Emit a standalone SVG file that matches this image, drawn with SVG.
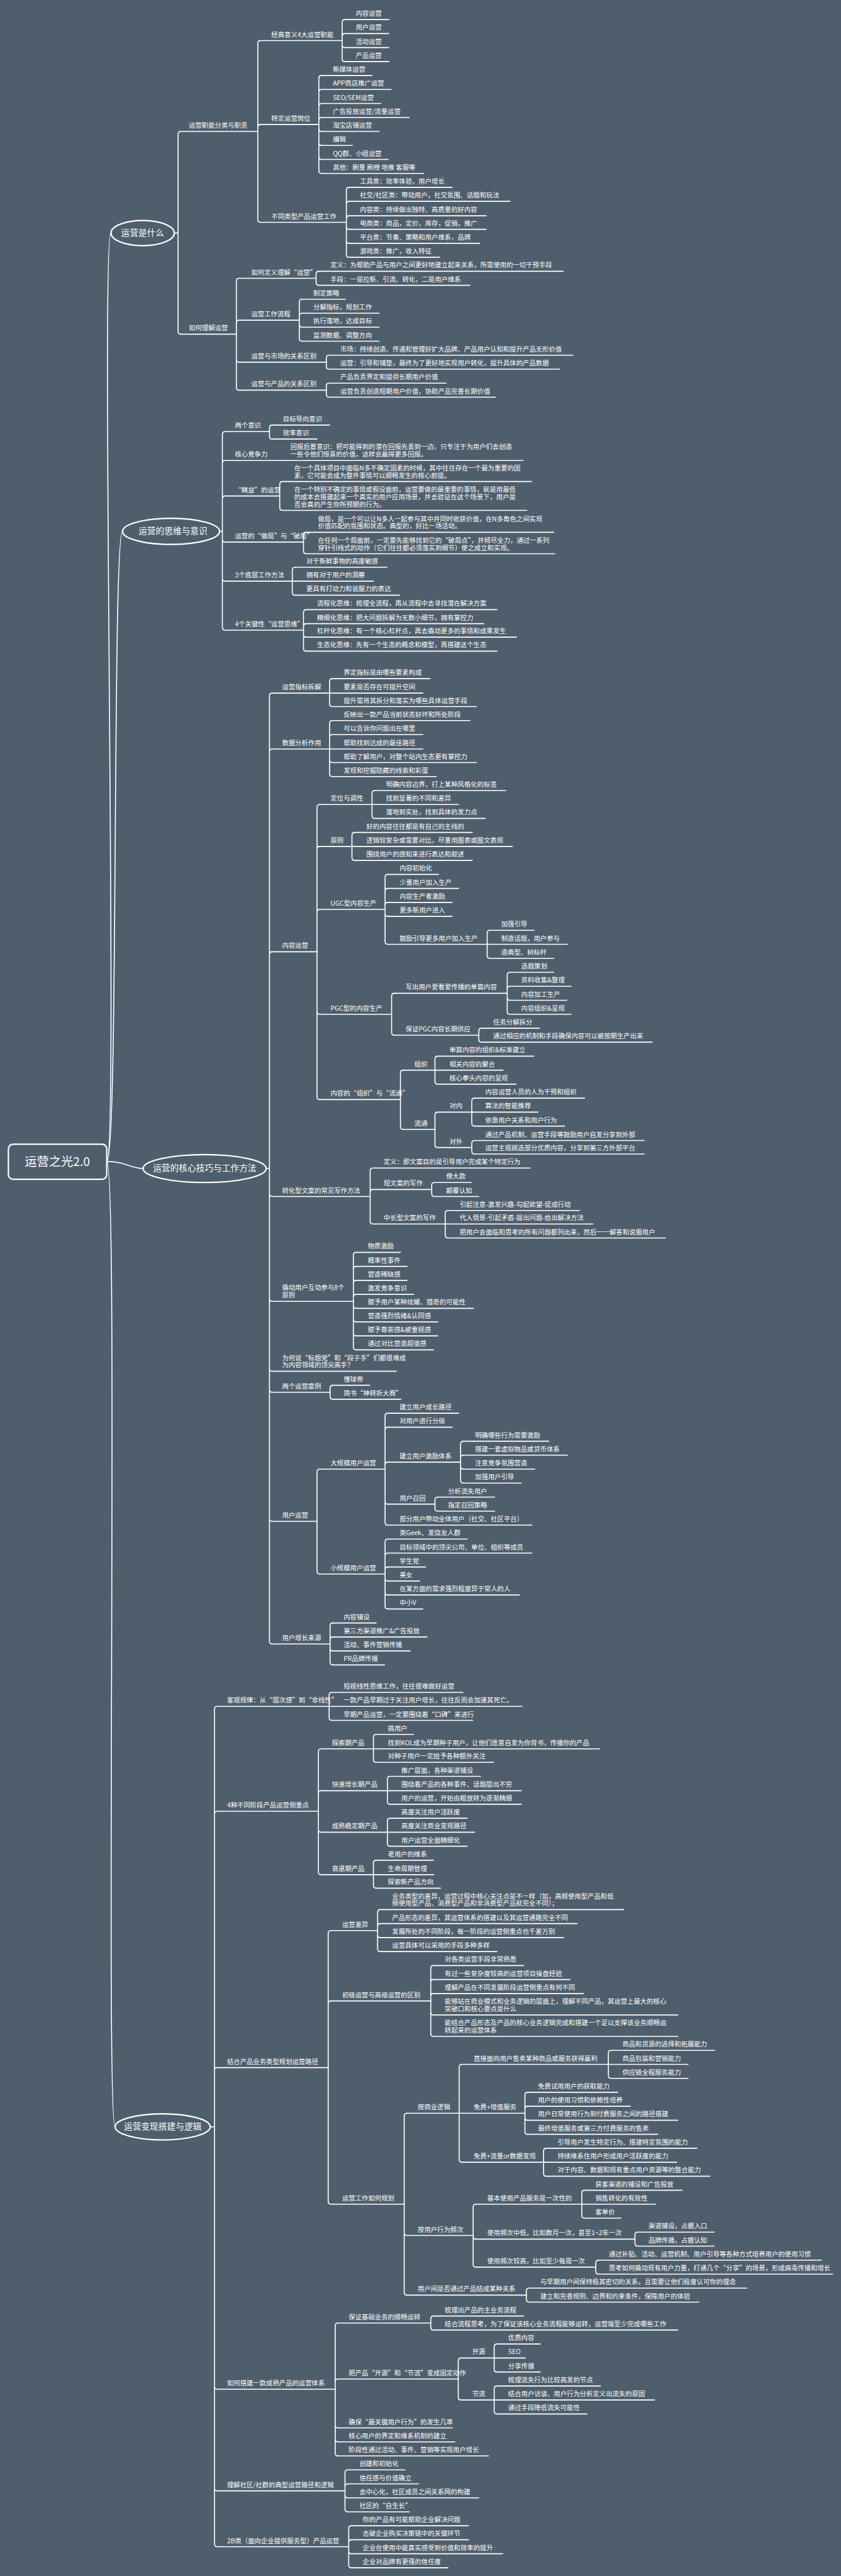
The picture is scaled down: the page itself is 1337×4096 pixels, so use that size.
<svg xmlns="http://www.w3.org/2000/svg" width="1337" height="4096" viewBox="0 0 1337 4096">
<style>
.t{font-family:"Noto Sans CJK SC","Noto Sans",sans-serif;font-size:14px;fill:#fff}
.h{font-family:"Noto Sans CJK SC","Noto Sans",sans-serif;font-size:18.5px;fill:#fff;text-anchor:middle}
.r{font-family:"Noto Sans CJK SC","Noto Sans",sans-serif;font-size:26px;fill:#fff;text-anchor:middle}
.u,.c{stroke:#fff;stroke-width:2.2;fill:none;stroke-linecap:round}
.e{stroke:#fff;stroke-width:3;fill:#4f5e6c}
</style>
<rect width="1337" height="4096" fill="#4f5e6c"/>
<g transform="scale(0.74113)">
<g id="connectors">
<path class="c" d="M229 2492 C255 2492 215 500 238 500 M229 2492 C255 2492 240 1140 263 1140 M229 2492 C270 2492 280 2507 307 2507 M229 2492 C255 2492 225 4563 247 4563"/>
<path class="c" d="M374 500 H382 M382 500 V288 Q382 282 388 282 M382 500 V711 Q382 717 388 717"/>
<path class="c" d="M553 282 V93 Q553 87 559 87 M553 282 V273 Q553 267 559 267 M553 282 V471 Q553 477 559 477"/>
<path class="c" d="M734 87 V48 Q734 42 740 42 M734 87 V78 Q734 72 740 72 M734 87 V96 Q734 102 740 102 M734 87 V126 Q734 132 740 132"/>
<path class="c" d="M684 267 V168 Q684 162 690 162 M684 267 V198 Q684 192 690 192 M684 267 V228 Q684 222 690 222 M684 267 V258 Q684 252 690 252 M684 267 V276 Q684 282 690 282 M684 267 V306 Q684 312 690 312 M684 267 V336 Q684 342 690 342 M684 267 V366 Q684 372 690 372"/>
<path class="c" d="M743 477 V408 Q743 402 749 402 M743 477 V438 Q743 432 749 432 M743 477 V469 Q743 463 749 463 M743 477 V486 Q743 492 749 492 M743 477 V516 Q743 522 749 522 M743 477 V546 Q743 552 749 552"/>
<path class="c" d="M507 717 V603 Q507 597 513 597 M507 717 V693 Q507 687 513 687 M507 717 V771 Q507 777 513 777 M507 717 V831 Q507 837 513 837"/>
<path class="c" d="M678 597 V588 Q678 582 684 582 M678 597 V606 Q678 612 684 612 M642 687 V648 Q642 642 648 642 M642 687 V678 Q642 672 648 672 M642 687 V696 Q642 702 648 702 M642 687 V726 Q642 732 648 732 M700 777 V768 Q700 762 706 762 M700 777 V786 Q700 792 706 792 M700 837 V828 Q700 822 706 822 M700 837 V846 Q700 852 706 852"/>
<path class="c" d="M471 1140 H477 M477 1140 V932 Q477 926 483 926 M477 1140 V994 Q477 988 483 988 M477 1140 V1070 Q477 1064 483 1064 M477 1140 V1157 Q477 1163 483 1163 M477 1140 V1241 Q477 1247 483 1247 M477 1140 V1346 Q477 1352 483 1352"/>
<path class="c" d="M578 926 V918 Q578 912 584 912 M578 926 V936 Q578 942 584 942 M612 988 H618 M600 1064 V1039 Q600 1033 606 1033 M600 1064 V1089 Q600 1095 606 1095 M651 1163 V1148 Q651 1142 657 1142 M651 1163 V1182 Q651 1188 657 1188 M627 1247 V1223 Q627 1217 633 1217 M627 1247 H633 M627 1247 V1271 Q627 1277 633 1277 M651 1352 V1314 Q651 1308 657 1308 M651 1352 V1344 Q651 1338 657 1338 M651 1352 V1361 Q651 1367 657 1367 M651 1352 V1391 Q651 1397 657 1397"/>
<path class="c" d="M571 2507 H578 M578 2507 V1493 Q578 1487 584 1487 M578 2507 V1613 Q578 1607 584 1607 M578 2507 V2048 Q578 2042 584 2042 M578 2507 V2561 Q578 2567 584 2567 M578 2507 V2786 Q578 2792 584 2792 M578 2507 V2936 Q578 2942 584 2942 M578 2507 V2981 Q578 2987 584 2987 M578 2507 V3258 Q578 3264 584 3264 M578 2507 V3521 Q578 3527 584 3527"/>
<path class="c" d="M707 1487 V1462 Q707 1456 713 1456 M707 1487 H713 M707 1487 V1510 Q707 1516 713 1516 M707 1607 V1552 Q707 1546 713 1546 M707 1607 V1582 Q707 1576 713 1576 M707 1607 H713 M707 1607 V1630 Q707 1636 713 1636 M707 1607 V1660 Q707 1666 713 1666"/>
<path class="c" d="M680 2042 V1732 Q680 1726 686 1726 M680 2042 V1822 Q680 1816 686 1816 M680 2042 V1957 Q680 1951 686 1951 M680 2042 V2170 Q680 2176 686 2176 M680 2042 V2353 Q680 2359 686 2359"/>
<path class="c" d="M798 1726 V1702 Q798 1696 804 1696 M798 1726 H804 M798 1726 V1750 Q798 1756 804 1756 M755 1816 V1792 Q755 1786 761 1786 M755 1816 H761 M755 1816 V1840 Q755 1846 761 1846"/>
<path class="c" d="M826 1951 V1882 Q826 1876 832 1876 M826 1951 V1912 Q826 1906 832 1906 M826 1951 V1942 Q826 1936 832 1936 M826 1951 V1960 Q826 1966 832 1966 M826 1951 V2020 Q826 2026 832 2026 M1045 2026 V2002 Q1045 1996 1051 1996 M1045 2026 H1051 M1045 2026 V2050 Q1045 2056 1051 2056"/>
<path class="c" d="M840 2176 V2137 Q840 2131 846 2131 M840 2176 V2215 Q840 2221 846 2221 M1088 2131 V2092 Q1088 2086 1094 2086 M1088 2131 V2122 Q1088 2116 1094 2116 M1088 2131 V2140 Q1088 2146 1094 2146 M1088 2131 V2170 Q1088 2176 1094 2176 M1027 2221 V2212 Q1027 2206 1033 2206 M1027 2221 V2230 Q1027 2236 1033 2236"/>
<path class="c" d="M859 2359 V2302 Q859 2296 865 2296 M859 2359 V2417 Q859 2423 865 2423 M933 2296 V2272 Q933 2266 939 2266 M933 2296 H939 M933 2296 V2320 Q933 2326 939 2326 M933 2423 V2392 Q933 2386 939 2386 M933 2423 V2456 Q933 2462 939 2462 M1012 2386 V2362 Q1012 2356 1018 2356 M1012 2386 H1018 M1012 2386 V2410 Q1012 2416 1018 2416 M1012 2462 V2453 Q1012 2447 1018 2447 M1012 2462 V2470 Q1012 2476 1018 2476"/>
<path class="c" d="M794 2567 V2512 Q794 2506 800 2506 M794 2567 V2558 Q794 2552 800 2552 M794 2567 V2620 Q794 2626 800 2626 M926 2552 V2543 Q926 2537 932 2537 M926 2552 V2561 Q926 2567 932 2567 M955 2626 V2603 Q955 2597 961 2597 M955 2626 H961 M955 2626 V2650 Q955 2656 961 2656"/>
<path class="c" d="M758 2792 V2693 Q758 2687 764 2687 M758 2792 V2723 Q758 2717 764 2717 M758 2792 V2753 Q758 2747 764 2747 M758 2792 V2783 Q758 2777 764 2777 M758 2792 V2801 Q758 2807 764 2807 M758 2792 V2830 Q758 2836 764 2836 M758 2792 V2860 Q758 2866 764 2866 M758 2792 V2890 Q758 2896 764 2896"/>
<path class="c" d="M708 2987 V2978 Q708 2972 714 2972 M708 2987 V2996 Q708 3002 714 3002 M680 3264 V3158 Q680 3152 686 3152 M680 3264 V3371 Q680 3377 686 3377"/>
<path class="c" d="M826 3152 V3038 Q826 3032 832 3032 M826 3152 V3068 Q826 3062 832 3062 M826 3152 V3143 Q826 3137 832 3137 M826 3152 V3221 Q826 3227 832 3227 M826 3152 V3266 Q826 3272 832 3272 M988 3137 V3098 Q988 3092 994 3092 M988 3137 V3128 Q988 3122 994 3122 M988 3137 V3146 Q988 3152 994 3152 M988 3137 V3176 Q988 3182 994 3182 M933 3227 V3218 Q933 3212 939 3212 M933 3227 V3236 Q933 3242 939 3242"/>
<path class="c" d="M826 3377 V3308 Q826 3302 832 3302 M826 3377 V3338 Q826 3332 832 3332 M826 3377 V3368 Q826 3362 832 3362 M826 3377 V3386 Q826 3392 832 3392 M826 3377 V3416 Q826 3422 832 3422 M826 3377 V3446 Q826 3452 832 3452 M708 3527 V3488 Q708 3482 714 3482 M708 3527 V3518 Q708 3512 714 3512 M708 3527 V3536 Q708 3542 714 3542 M708 3527 V3566 Q708 3572 714 3572"/>
<path class="c" d="M451 4563 H460 M460 4563 V3667 Q460 3661 466 3661 M460 4563 V3892 Q460 3886 466 3886 M460 4563 V4442 Q460 4436 466 4436 M460 4563 V5120 Q460 5126 466 5126 M460 4563 V5338 Q460 5344 466 5344 M460 4563 V5458 Q460 5464 466 5464"/>
<path class="c" d="M706 3661 V3637 Q706 3631 712 3631 M706 3661 H712 M706 3661 V3685 Q706 3691 712 3691 M683 3886 V3758 Q683 3752 689 3752 M683 3886 V3848 Q683 3842 689 3842 M683 3886 V3925 Q683 3931 689 3931 M683 3886 V4016 Q683 4022 689 4022"/>
<path class="c" d="M801 3752 V3727 Q801 3721 807 3721 M801 3752 H807 M801 3752 V3775 Q801 3781 807 3781 M831 3842 V3817 Q831 3811 837 3811 M831 3842 H837 M831 3842 V3865 Q831 3871 837 3871 M831 3931 V3907 Q831 3901 837 3901 M831 3931 H837 M831 3931 V3955 Q831 3961 837 3961 M801 4022 V3997 Q801 3991 807 3991 M801 4022 H807 M801 4022 V4045 Q801 4051 807 4051"/>
<path class="c" d="M704 4436 V4148 Q704 4142 710 4142 M704 4436 V4299 Q704 4293 710 4293 M704 4436 V4723 Q704 4729 710 4729 M810 4142 V4103 Q810 4097 816 4097 M810 4142 V4133 Q810 4127 816 4127 M810 4142 V4151 Q810 4157 816 4157 M810 4142 V4181 Q810 4187 816 4187"/>
<path class="c" d="M924 4293 V4223 Q924 4217 930 4217 M924 4293 V4253 Q924 4247 930 4247 M924 4293 V4283 Q924 4277 930 4277 M924 4293 V4317 Q924 4323 930 4323 M924 4293 V4363 Q924 4369 930 4369"/>
<path class="c" d="M867 4729 V4540 Q867 4534 873 4534 M867 4729 V4790 Q867 4796 873 4796 M867 4729 V4918 Q867 4924 873 4924 M985 4534 V4435 Q985 4429 991 4429 M985 4534 H991 M985 4534 V4633 Q985 4639 991 4639"/>
<path class="c" d="M1305 4429 V4405 Q1305 4399 1311 4399 M1305 4429 H1311 M1305 4429 V4453 Q1305 4459 1311 4459 M1126 4534 V4495 Q1126 4489 1132 4489 M1126 4534 V4525 Q1126 4519 1132 4519 M1126 4534 V4543 Q1126 4549 1132 4549 M1126 4534 V4573 Q1126 4579 1132 4579 M1166 4639 V4615 Q1166 4609 1172 4609 M1166 4639 H1172 M1166 4639 V4663 Q1166 4669 1172 4669"/>
<path class="c" d="M1015 4796 V4735 Q1015 4729 1021 4729 M1015 4796 V4798 Q1015 4804 1021 4804 M1015 4796 V4858 Q1015 4864 1021 4864 M1248 4729 V4705 Q1248 4699 1254 4699 M1248 4729 H1254 M1248 4729 V4753 Q1248 4759 1254 4759 M1362 4804 V4795 Q1362 4789 1368 4789 M1362 4804 V4813 Q1362 4819 1368 4819 M1278 4864 V4855 Q1278 4849 1284 4849 M1278 4864 V4873 Q1278 4879 1284 4879 M1129 4924 V4915 Q1129 4909 1135 4909 M1129 4924 V4933 Q1129 4939 1135 4939"/>
<path class="c" d="M719 5126 V4990 Q719 4984 725 4984 M719 5126 V5110 Q719 5104 725 5104 M719 5126 V5203 Q719 5209 725 5209 M719 5126 V5233 Q719 5239 725 5239 M719 5126 V5263 Q719 5269 725 5269 M924 4984 V4975 Q924 4969 930 4969 M924 4984 V4993 Q924 4999 930 4999"/>
<path class="c" d="M983 5104 V5065 Q983 5059 989 5059 M983 5104 V5143 Q983 5149 989 5149 M1060 5059 V5035 Q1060 5029 1066 5029 M1060 5059 H1066 M1060 5059 V5083 Q1060 5089 1066 5089 M1060 5149 V5125 Q1060 5119 1066 5119 M1060 5149 H1066 M1060 5149 V5173 Q1060 5179 1066 5179"/>
<path class="c" d="M740 5344 V5305 Q740 5299 746 5299 M740 5344 V5335 Q740 5329 746 5329 M740 5344 V5353 Q740 5359 746 5359 M740 5344 V5383 Q740 5389 746 5389 M748 5464 V5425 Q748 5419 754 5419 M748 5464 V5455 Q748 5449 754 5449 M748 5464 V5473 Q748 5479 754 5479 M748 5464 V5503 Q748 5509 754 5509"/>
</g>
<g id="nodes">
<g id="root"><rect x="18" y="2455" width="211" height="75" rx="10" class="e"/><text class="r" x="123" y="2502">运营之光2.0</text></g>
<g id="s1"><ellipse cx="306" cy="500" rx="68" ry="27" class="e"/><text class="h" x="306" y="506">运营是什么</text></g>
<g id="s2"><ellipse cx="367" cy="1140" rx="104" ry="28" class="e"/><text class="h" x="371" y="1146">运营的思维与意识</text></g>
<g id="s3"><ellipse cx="439" cy="2507" rx="132" ry="30" class="e"/><text class="h" x="439" y="2513">运营的核心技巧与工作方法</text></g>
<g id="s4"><ellipse cx="349" cy="4563" rx="102" ry="28" class="e"/><text class="h" x="349" y="4569">运营变现搭建与逻辑</text></g>

<g id="a"><text class="t" x="405" y="274">运营职能分类与职责</text><path class="u" d="M388 282H553"/></g>
<g id="a1"><text class="t" x="582" y="79">经典意义4大运营职能</text><path class="u" d="M559 87H734"/></g>
<g id="a1a"><text class="t" x="763" y="34">内容运营</text><path class="u" d="M740 42H834"/></g>
<g id="a1b"><text class="t" x="763" y="64">用户运营</text><path class="u" d="M740 72H834"/></g>
<g id="a1c"><text class="t" x="763" y="94">活动运营</text><path class="u" d="M740 102H834"/></g>
<g id="a1d"><text class="t" x="763" y="124">产品运营</text><path class="u" d="M740 132H834"/></g>
<g id="a2"><text class="t" x="582" y="259">特定运营岗位</text><path class="u" d="M559 267H684"/></g>
<g id="a2a"><text class="t" x="714" y="154">新媒体运营</text><path class="u" d="M690 162H798"/></g>
<g id="a2b"><text class="t" x="714" y="184">APP商店推广运营</text><path class="u" d="M690 192H839"/></g>
<g id="a2c"><text class="t" x="714" y="214">SEO/SEM运营</text><path class="u" d="M690 222H817"/></g>
<g id="a2d"><text class="t" x="714" y="244">广告投放运营/流量运营</text><path class="u" d="M690 252H878"/></g>
<g id="a2e"><text class="t" x="714" y="274">淘宝店铺运营</text><path class="u" d="M690 282H813"/></g>
<g id="a2f"><text class="t" x="714" y="304">编辑</text><path class="u" d="M690 312H756"/></g>
<g id="a2g"><text class="t" x="714" y="334">QQ群、小组运营</text><path class="u" d="M690 342H833"/></g>
<g id="a2h"><text class="t" x="714" y="364">其他：刷量 刷榜 地推 客服等</text><path class="u" d="M690 372H909"/></g>
<g id="a3"><text class="t" x="582" y="469">不同类型产品运营工作</text><path class="u" d="M559 477H743"/></g>
<g id="a3a"><text class="t" x="772" y="394">工具类：效率体验，用户增长</text><path class="u" d="M749 402H970"/></g>
<g id="a3b"><text class="t" x="772" y="424">社交/社区类：带动用户，社交氛围、话题和玩法</text><path class="u" d="M749 432H1094"/></g>
<g id="a3c"><text class="t" x="772" y="455">内容类：持续做出独特、高质量的好内容</text><path class="u" d="M749 463H1043"/></g>
<g id="a3d"><text class="t" x="772" y="484">电商类：商品，定价，库存，促销，推广</text><path class="u" d="M749 492H1043"/></g>
<g id="a3e"><text class="t" x="772" y="514">平台类：节奏、策略和用户维系，品牌</text><path class="u" d="M749 522H1029"/></g>
<g id="a3f"><text class="t" x="772" y="544">游戏类：推广，收入特征</text><path class="u" d="M749 552H943"/></g>
<g id="b"><text class="t" x="405" y="709">如何理解运营</text><path class="u" d="M388 717H507"/></g>
<g id="b1"><text class="t" x="539" y="589">如何定义理解“运营”</text><path class="u" d="M513 597H678"/></g>
<g id="b1a"><text class="t" x="709" y="574">定义：为帮助产品与用户之间更好地建立起来关系，所需使用的一切干预手段</text><path class="u" d="M684 582H1208"/></g>
<g id="b1b"><text class="t" x="709" y="604">手段：一是拉新、引流、转化，二是用户维系</text><path class="u" d="M684 612H1008"/></g>
<g id="b2"><text class="t" x="539" y="679">运营工作流程</text><path class="u" d="M513 687H642"/></g>
<g id="b2a"><text class="t" x="672" y="634">制定策略</text><path class="u" d="M648 642H741"/></g>
<g id="b2b"><text class="t" x="672" y="664">分解指标，规划工作</text><path class="u" d="M648 672H813"/></g>
<g id="b2c"><text class="t" x="672" y="694">执行落地，达成目标</text><path class="u" d="M648 702H813"/></g>
<g id="b2d"><text class="t" x="672" y="724">监测数据、调整方向</text><path class="u" d="M648 732H813"/></g>
<g id="b3"><text class="t" x="539" y="769">运营与市场的关系区别</text><path class="u" d="M513 777H700"/></g>
<g id="b3a"><text class="t" x="730" y="754">市场：持续创造、传递和管理好扩大品牌、产品用户认知和提升产品无形价值</text><path class="u" d="M706 762H1229"/></g>
<g id="b3b"><text class="t" x="730" y="784">运营：引导和铺垫，最终为了更好地实现用户转化，提升具体的产品数据</text><path class="u" d="M706 792H1200"/></g>
<g id="b4"><text class="t" x="539" y="829">运营与产品的关系区别</text><path class="u" d="M513 837H700"/></g>
<g id="b4a"><text class="t" x="730" y="814">产品负责界定和提供长期用户价值</text><path class="u" d="M706 822H957"/></g>
<g id="b4b"><text class="t" x="730" y="844">运营负责创造短期用户价值，协助产品完善长期价值</text><path class="u" d="M706 852H1063"/></g>

<g id="c1"><text class="t" x="504" y="918">两个意识</text><path class="u" d="M483 926H578"/></g>
<g id="c1a"><text class="t" x="607" y="904">目标导向意识</text><path class="u" d="M584 912H707"/></g>
<g id="c1b"><text class="t" x="607" y="934">效率意识</text><path class="u" d="M584 942H680"/></g>
<g id="c2"><text class="t" x="504" y="980">核心竞争力</text><path class="u" d="M483 988H612"/></g>
<g id="c2a"><text class="t" x="623" y="964">回报后置意识：把可能得到的潜在回报先丢到一边，只专注于为用户们去创造</text><text class="t" x="623" y="980">一些令他们惊喜的价值，这样会赢得更多回报。</text><path class="u" d="M618 988H1122"/></g>
<g id="c3"><text class="t" x="504" y="1056">“精益”的运营</text><path class="u" d="M483 1064H600"/></g>
<g id="c3a"><text class="t" x="631" y="1009">在一个具体项目中面临N多不确定因素的时候，其中往往存在一个最为重要的因</text><text class="t" x="631" y="1025">素，它可能会成为整件事情可以顺畅发生的核心前提。</text><path class="u" d="M606 1033H1140"/></g>
<g id="c3b"><text class="t" x="631" y="1055">在一个特别不确定的事情或假设面前，运营要做的最重要的事情，就是用最低</text><text class="t" x="631" y="1071">的成本去搭建起来一个真实的用户应用场景，并去验证在这个场景下，用户是</text><text class="t" x="631" y="1087">否会真的产生你所预期的行为。</text><path class="u" d="M606 1095H1130"/></g>
<g id="c4"><text class="t" x="504" y="1155">运营的“做局”与“破局”</text><path class="u" d="M483 1163H651"/></g>
<g id="c4a"><text class="t" x="682" y="1118">做局，是一个可以让N多人一起参与其中并同时收获价值，在N多角色之间实现</text><text class="t" x="682" y="1134">价值匹配的氛围和状态。典型的，好比一场活动。</text><path class="u" d="M657 1142H1188"/></g>
<g id="c4b"><text class="t" x="682" y="1164">在任何一个局面前，一定要先能够找到它的“破局点”，并倾尽全力，通过一系列</text><text class="t" x="682" y="1180">穿针引线式的动作（它们往往都必须落实到细节）使之成立和实现。</text><path class="u" d="M657 1188H1190"/></g>
<g id="c5"><text class="t" x="504" y="1239">3个底层工作方法</text><path class="u" d="M483 1247H627"/></g>
<g id="c5a"><text class="t" x="657" y="1209">对于新鲜事物的高度敏感</text><path class="u" d="M633 1217H830"/></g>
<g id="c5b"><text class="t" x="657" y="1239">拥有对于用户的洞察</text><path class="u" d="M633 1247H801"/></g>
<g id="c5c"><text class="t" x="657" y="1269">更具有打动力和说服力的表达</text><path class="u" d="M633 1277H857"/></g>
<g id="c6"><text class="t" x="504" y="1344">4个关键性“运营思维”</text><path class="u" d="M483 1352H651"/></g>
<g id="c6a"><text class="t" x="680" y="1300">流程化思维：梳理全流程，再从流程中去寻找潜在解决方案</text><path class="u" d="M657 1308H1066"/></g>
<g id="c6b"><text class="t" x="680" y="1330">精细化思维：把大问题拆解为无数小细节，拥有掌控力</text><path class="u" d="M657 1338H1038"/></g>
<g id="c6c"><text class="t" x="680" y="1359">杠杆化思维：有一个核心杠杆点，再去撬动更多的事情和成果发生</text><path class="u" d="M657 1367H1108"/></g>
<g id="c6d"><text class="t" x="680" y="1389">生态化思维：先有一个生态的概念和模型，再搭建这个生态</text><path class="u" d="M657 1397H1066"/></g>

<g id="d1"><text class="t" x="605" y="1479">运营指标拆解</text><path class="u" d="M584 1487H707"/></g>
<g id="d1a"><text class="t" x="737" y="1448">界定指标是由哪些要素构成</text><path class="u" d="M713 1456H922"/></g>
<g id="d1b"><text class="t" x="737" y="1479">要素是否存在可提升空间</text><path class="u" d="M713 1487H907"/></g>
<g id="d1c"><text class="t" x="737" y="1508">提升需将其拆分和落实为哪些具体运营手段</text><path class="u" d="M713 1516H1022"/></g>
<g id="d2"><text class="t" x="605" y="1599">数据分析作用</text><path class="u" d="M584 1607H707"/></g>
<g id="d2a"><text class="t" x="737" y="1538">反映出一款产品当前状态好坏和所处阶段</text><path class="u" d="M713 1546H1008"/></g>
<g id="d2b"><text class="t" x="737" y="1568">可以告诉你问题出在哪里</text><path class="u" d="M713 1576H907"/></g>
<g id="d2c"><text class="t" x="737" y="1599">帮助找到达成的最佳路径</text><path class="u" d="M713 1607H907"/></g>
<g id="d2d"><text class="t" x="737" y="1628">帮助了解用户，对整个站内生态更有掌控力</text><path class="u" d="M713 1636H1022"/></g>
<g id="d2e"><text class="t" x="737" y="1658">发现和挖掘隐藏的线索和彩蛋</text><path class="u" d="M713 1666H936"/></g>
<g id="d3"><text class="t" x="605" y="2034">内容运营</text><path class="u" d="M584 2042H680"/></g>
<g id="d3a"><text class="t" x="709" y="1718">定位与调性</text><path class="u" d="M686 1726H798"/></g>
<g id="d3a1"><text class="t" x="828" y="1688">明确内容边界，打上某种风格化的标签</text><path class="u" d="M804 1696H1085"/></g>
<g id="d3a2"><text class="t" x="828" y="1718">找到显著的不同和差异</text><path class="u" d="M804 1726H984"/></g>
<g id="d3a3"><text class="t" x="828" y="1748">落地到实处，找到具体的发力点</text><path class="u" d="M804 1756H1041"/></g>
<g id="d3b"><text class="t" x="709" y="1808">原则</text><path class="u" d="M686 1816H755"/></g>
<g id="d3b1"><text class="t" x="786" y="1778">好的内容往往都是有自己的主线的</text><path class="u" d="M761 1786H1013"/></g>
<g id="d3b2"><text class="t" x="786" y="1808">逻辑较复杂或需要对比，尽量用图表或图文表现</text><path class="u" d="M761 1816H1099"/></g>
<g id="d3b3"><text class="t" x="786" y="1838">围绕用户的感知来进行表达和叙述</text><path class="u" d="M761 1846H1013"/></g>
<g id="d3c"><text class="t" x="709" y="1943">UGC型内容生产</text><path class="u" d="M686 1951H826"/></g>
<g id="d3c1"><text class="t" x="857" y="1868">内容初始化</text><path class="u" d="M832 1876H941"/></g>
<g id="d3c2"><text class="t" x="857" y="1898">少量用户加入生产</text><path class="u" d="M832 1906H984"/></g>
<g id="d3c3"><text class="t" x="857" y="1928">内容生产者激励</text><path class="u" d="M832 1936H970"/></g>
<g id="d3c4"><text class="t" x="857" y="1958">更多新用户进入</text><path class="u" d="M832 1966H970"/></g>
<g id="d3c5"><text class="t" x="857" y="2018">鼓励引导更多用户加入生产</text><path class="u" d="M832 2026H1045"/></g>
<g id="d3c5a"><text class="t" x="1075" y="1988">加强引导</text><path class="u" d="M1051 1996H1146"/></g>
<g id="d3c5b"><text class="t" x="1075" y="2018">制造话题，用户参与</text><path class="u" d="M1051 2026H1217"/></g>
<g id="d3c5c"><text class="t" x="1075" y="2048">造典型、树标杆</text><path class="u" d="M1051 2056H1188"/></g>
<g id="d3d"><text class="t" x="709" y="2168">PGC型的内容生产</text><path class="u" d="M686 2176H840"/></g>
<g id="d3d1"><text class="t" x="870" y="2123">写出用户爱看爱传播的单篇内容</text><path class="u" d="M846 2131H1088"/></g>
<g id="d3d1a"><text class="t" x="1118" y="2078">选题策划</text><path class="u" d="M1094 2086H1188"/></g>
<g id="d3d1b"><text class="t" x="1118" y="2108">资料收集&amp;整理</text><path class="u" d="M1094 2116H1225"/></g>
<g id="d3d1c"><text class="t" x="1118" y="2138">内容加工生产</text><path class="u" d="M1094 2146H1216"/></g>
<g id="d3d1d"><text class="t" x="1118" y="2168">内容组织&amp;呈现</text><path class="u" d="M1094 2176H1225"/></g>
<g id="d3d2"><text class="t" x="870" y="2213">保证PGC内容长期供应</text><path class="u" d="M846 2221H1027"/></g>
<g id="d3d2a"><text class="t" x="1058" y="2198">任务分解拆分</text><path class="u" d="M1033 2206H1157"/></g>
<g id="d3d2b"><text class="t" x="1058" y="2228">通过相应的机制和手段确保内容可以被按期生产出来</text><path class="u" d="M1033 2236H1399"/></g>
<g id="d3e"><text class="t" x="709" y="2351">内容的“组织”与“流通”</text><path class="u" d="M686 2359H859"/></g>
<g id="d3e1"><text class="t" x="889" y="2288">组织</text><path class="u" d="M865 2296H933"/></g>
<g id="d3e1a"><text class="t" x="964" y="2258">单篇内容的组织&amp;标准建立</text><path class="u" d="M939 2266H1145"/></g>
<g id="d3e1b"><text class="t" x="964" y="2288">相关内容的聚合</text><path class="u" d="M939 2296H1079"/></g>
<g id="d3e1c"><text class="t" x="964" y="2318">核心拳头内容的呈现</text><path class="u" d="M939 2326H1107"/></g>
<g id="d3e2"><text class="t" x="889" y="2415">流通</text><path class="u" d="M865 2423H933"/></g>
<g id="d3e2a"><text class="t" x="964" y="2378">对内</text><path class="u" d="M939 2386H1012"/></g>
<g id="d3e2a1"><text class="t" x="1041" y="2348">内容运营人员的人为干预和组织</text><path class="u" d="M1018 2356H1254"/></g>
<g id="d3e2a2"><text class="t" x="1041" y="2378">算法的智能推荐</text><path class="u" d="M1018 2386H1154"/></g>
<g id="d3e2a3"><text class="t" x="1041" y="2408">依靠用户关系和用户行为</text><path class="u" d="M1018 2416H1211"/></g>
<g id="d3e2b"><text class="t" x="964" y="2454">对外</text><path class="u" d="M939 2462H1012"/></g>
<g id="d3e2b1"><text class="t" x="1041" y="2439">通过产品机制、运营手段等鼓励用户自发分享到外部</text><path class="u" d="M1018 2447H1382"/></g>
<g id="d3e2b2"><text class="t" x="1041" y="2468">运营主观挑选部分优质内容，分享到第三方外部平台</text><path class="u" d="M1018 2476H1382"/></g>
<g id="d4"><text class="t" x="605" y="2559">转化型文案的常见写作方法</text><path class="u" d="M584 2567H794"/></g>
<g id="d4a"><text class="t" x="823" y="2498">定义：即文案目的是引导用户完成某个特定行为</text><path class="u" d="M800 2506H1137"/></g>
<g id="d4b"><text class="t" x="823" y="2544">短文案的写作</text><path class="u" d="M800 2552H926"/></g>
<g id="d4b1"><text class="t" x="957" y="2529">傍大款</text><path class="u" d="M932 2537H1011"/></g>
<g id="d4b2"><text class="t" x="957" y="2559">颠覆认知</text><path class="u" d="M932 2567H1027"/></g>
<g id="d4c"><text class="t" x="823" y="2618">中长型文案的写作</text><path class="u" d="M800 2626H955"/></g>
<g id="d4c1"><text class="t" x="986" y="2589">引起注意-激发兴趣-勾起欲望-促成行动</text><path class="u" d="M961 2597H1243"/></g>
<g id="d4c2"><text class="t" x="986" y="2618">代入情景-引起矛盾-提出问题-给出解决方法</text><path class="u" d="M961 2626H1272"/></g>
<g id="d4c3"><text class="t" x="986" y="2648">把用户会面临和思考的所有问题都列出来，然后一一解答和说服用户</text><path class="u" d="M961 2656H1427"/></g>
<g id="d5"><text class="t" x="605" y="2768">撬动用户互动参与8个</text><text class="t" x="605" y="2784">原则</text><path class="u" d="M584 2792H758"/></g>
<g id="d5a"><text class="t" x="789" y="2679">物质激励</text><path class="u" d="M764 2687H859"/></g>
<g id="d5b"><text class="t" x="789" y="2709">概率性事件</text><path class="u" d="M764 2717H873"/></g>
<g id="d5c"><text class="t" x="789" y="2739">营造稀缺感</text><path class="u" d="M764 2747H873"/></g>
<g id="d5d"><text class="t" x="789" y="2769">激发竞争意识</text><path class="u" d="M764 2777H887"/></g>
<g id="d5e"><text class="t" x="789" y="2799">赋予用户某种炫耀、猎奇的可能性</text><path class="u" d="M764 2807H1016"/></g>
<g id="d5f"><text class="t" x="789" y="2828">营造强烈情绪&amp;认同感</text><path class="u" d="M764 2836H939"/></g>
<g id="d5g"><text class="t" x="789" y="2858">赋予尊崇感&amp;被重视感</text><path class="u" d="M764 2866H939"/></g>
<g id="d5h"><text class="t" x="789" y="2888">通过对比营造超值感</text><path class="u" d="M764 2896H930"/></g>
<g id="d6"><text class="t" x="605" y="2918">为何说“标题党”和“段子手”们都很难成</text><text class="t" x="605" y="2934">为内容领域的顶尖高手？</text><path class="u" d="M584 2942H850"/></g>
<g id="d7"><text class="t" x="605" y="2979">两个运营案例</text><path class="u" d="M584 2987H708"/></g>
<g id="d7a"><text class="t" x="737" y="2964">懂球帝</text><path class="u" d="M714 2972H793"/></g>
<g id="d7b"><text class="t" x="737" y="2994">简书“神转折大赛”</text><path class="u" d="M714 3002H860"/></g>
<g id="d8"><text class="t" x="605" y="3256">用户运营</text><path class="u" d="M584 3264H680"/></g>
<g id="d8a"><text class="t" x="709" y="3144">大规模用户运营</text><path class="u" d="M686 3152H826"/></g>
<g id="d8a1"><text class="t" x="857" y="3024">建立用户成长路径</text><path class="u" d="M832 3032H984"/></g>
<g id="d8a2"><text class="t" x="857" y="3054">对用户进行分级</text><path class="u" d="M832 3062H970"/></g>
<g id="d8a3"><text class="t" x="857" y="3129">建立用户激励体系</text><path class="u" d="M832 3137H988"/></g>
<g id="d8a3a"><text class="t" x="1019" y="3084">明确哪些行为需要激励</text><path class="u" d="M994 3092H1177"/></g>
<g id="d8a3b"><text class="t" x="1019" y="3114">搭建一套虚拟物品或货币体系</text><path class="u" d="M994 3122H1217"/></g>
<g id="d8a3c"><text class="t" x="1019" y="3144">注意竞争氛围营造</text><path class="u" d="M994 3152H1147"/></g>
<g id="d8a3d"><text class="t" x="1019" y="3174">加强用户引导</text><path class="u" d="M994 3182H1118"/></g>
<g id="d8a4"><text class="t" x="857" y="3219">用户召回</text><path class="u" d="M832 3227H933"/></g>
<g id="d8a4a"><text class="t" x="961" y="3204">分析流失用户</text><path class="u" d="M939 3212H1061"/></g>
<g id="d8a4b"><text class="t" x="961" y="3234">指定召回策略</text><path class="u" d="M939 3242H1061"/></g>
<g id="d8a5"><text class="t" x="857" y="3264">部分用户带动全体用户（社交、社区平台）</text><path class="u" d="M832 3272H1141"/></g>
<g id="d8b"><text class="t" x="709" y="3369">小规模用户运营</text><path class="u" d="M686 3377H826"/></g>
<g id="d8b1"><text class="t" x="857" y="3294">类Geek、发烧友人群</text><path class="u" d="M832 3302H1002"/></g>
<g id="d8b2"><text class="t" x="857" y="3324">目标领域中的顶尖公司、单位、组织等成员</text><path class="u" d="M832 3332H1141"/></g>
<g id="d8b3"><text class="t" x="857" y="3354">学生党</text><path class="u" d="M832 3362H913"/></g>
<g id="d8b4"><text class="t" x="857" y="3384">美女</text><path class="u" d="M832 3392H900"/></g>
<g id="d8b5"><text class="t" x="857" y="3414">在某方面的需求强烈程度异于常人的人</text><path class="u" d="M832 3422H1114"/></g>
<g id="d8b6"><text class="t" x="857" y="3444">中小V</text><path class="u" d="M832 3452H907"/></g>
<g id="d9"><text class="t" x="605" y="3519">用户增长来源</text><path class="u" d="M584 3527H708"/></g>
<g id="d9a"><text class="t" x="737" y="3474">内容铺设</text><path class="u" d="M714 3482H807"/></g>
<g id="d9b"><text class="t" x="737" y="3504">第三方渠道推广&amp;广告投放</text><path class="u" d="M714 3512H916"/></g>
<g id="d9c"><text class="t" x="737" y="3534">活动、事件营销传播</text><path class="u" d="M714 3542H880"/></g>
<g id="d9d"><text class="t" x="737" y="3564">PR品牌传播</text><path class="u" d="M714 3572H825"/></g>

<g id="e1"><text class="t" x="487" y="3653">客观规律：从“层次感”到“非线性”</text><path class="u" d="M466 3661H706"/></g>
<g id="e1a"><text class="t" x="737" y="3623">短视线性思维工作，往往很难做好运营</text><path class="u" d="M712 3631H993"/></g>
<g id="e1b"><text class="t" x="737" y="3653">一款产品早期过于关注用户增长，往往反而会加速其死亡。</text><path class="u" d="M712 3661H1120"/></g>
<g id="e1c"><text class="t" x="737" y="3683">早期产品运营，一定要围绕着“口碑”来进行</text><path class="u" d="M712 3691H1014"/></g>
<g id="e2"><text class="t" x="487" y="3878">4种不同阶段产品运营侧重点</text><path class="u" d="M466 3886H683"/></g>
<g id="e2a"><text class="t" x="712" y="3744">探索期产品</text><path class="u" d="M689 3752H801"/></g>
<g id="e2a1"><text class="t" x="832" y="3713">挑用户</text><path class="u" d="M807 3721H887"/></g>
<g id="e2a2"><text class="t" x="832" y="3744">找到KOL成为早期种子用户，让他们愿意自发为你背书，传播你的产品</text><path class="u" d="M807 3752H1286"/></g>
<g id="e2a3"><text class="t" x="832" y="3773">对种子用户一定给予各种额外关注</text><path class="u" d="M807 3781H1059"/></g>
<g id="e2b"><text class="t" x="712" y="3834">快速增长期产品</text><path class="u" d="M689 3842H831"/></g>
<g id="e2b1"><text class="t" x="861" y="3803">推广层面，各种渠道铺设</text><path class="u" d="M837 3811H1031"/></g>
<g id="e2b2"><text class="t" x="861" y="3834">围绕着产品的各种事件、话题层出不穷</text><path class="u" d="M837 3842H1118"/></g>
<g id="e2b3"><text class="t" x="861" y="3863">用户的运营，开始由粗放转为逐渐精细</text><path class="u" d="M837 3871H1118"/></g>
<g id="e2c"><text class="t" x="712" y="3923">成熟稳定期产品</text><path class="u" d="M689 3931H831"/></g>
<g id="e2c1"><text class="t" x="861" y="3893">高度关注用户活跃度</text><path class="u" d="M837 3901H1002"/></g>
<g id="e2c2"><text class="t" x="861" y="3923">高度关注商业变现路径</text><path class="u" d="M837 3931H1018"/></g>
<g id="e2c3"><text class="t" x="861" y="3953">用户运营全面精细化</text><path class="u" d="M837 3961H1002"/></g>
<g id="e2d"><text class="t" x="712" y="4014">衰退期产品</text><path class="u" d="M689 4022H801"/></g>
<g id="e2d1"><text class="t" x="832" y="3983">老用户的维系</text><path class="u" d="M807 3991H930"/></g>
<g id="e2d2"><text class="t" x="832" y="4014">生命周期管理</text><path class="u" d="M807 4022H930"/></g>
<g id="e2d3"><text class="t" x="832" y="4043">探索新产品方向</text><path class="u" d="M807 4051H945"/></g>
<g id="e3"><text class="t" x="487" y="4428">结合产品业务类型规划运营路径</text><path class="u" d="M466 4436H704"/></g>
<g id="e3a"><text class="t" x="734" y="4134">运营差异</text><path class="u" d="M710 4142H810"/></g>
<g id="e3a1"><text class="t" x="841" y="4073">业务类型的差异，运营过程中核心关注点是不一样（如，高频使用型产品和低</text><text class="t" x="841" y="4089">频使用型产品、消费型产品和非消费型产品就完全不同）；</text><path class="u" d="M816 4097H1338"/></g>
<g id="e3a2"><text class="t" x="841" y="4119">产品形态的差异，其运营体系的搭建以及其运营通路完全不同</text><path class="u" d="M816 4127H1238"/></g>
<g id="e3a3"><text class="t" x="841" y="4149">发展所处的不同阶段，每一阶段的运营侧重点也千差万别</text><path class="u" d="M816 4157H1209"/></g>
<g id="e3a4"><text class="t" x="841" y="4179">运营具体可以采用的手段多种多样</text><path class="u" d="M816 4187H1066"/></g>
<g id="e3b"><text class="t" x="734" y="4285">初级运营与高级运营的区别</text><path class="u" d="M710 4293H924"/></g>
<g id="e3b1"><text class="t" x="954" y="4209">对各类运营手段非常熟悉</text><path class="u" d="M930 4217H1123"/></g>
<g id="e3b2"><text class="t" x="954" y="4239">有过一些复杂度较高的运营项目操盘经验</text><path class="u" d="M930 4247H1223"/></g>
<g id="e3b3"><text class="t" x="954" y="4269">理解产品在不同发展阶段运营侧重点有何不同</text><path class="u" d="M930 4277H1252"/></g>
<g id="e3b4"><text class="t" x="954" y="4299">能够站在商业模式和业务逻辑的层面上，理解不同产品，其运营上最大的核心</text><text class="t" x="954" y="4315">突破口和核心要点是什么</text><path class="u" d="M930 4323H1454"/></g>
<g id="e3b5"><text class="t" x="954" y="4345">能结合产品形态及产品的核心业务逻辑完成和搭建一个足以支撑该业务顺畅运</text><text class="t" x="954" y="4361">转起来的运营体系</text><path class="u" d="M930 4369H1454"/></g>
<g id="e3c"><text class="t" x="734" y="4721">运营工作如何规划</text><path class="u" d="M710 4729H867"/></g>
<g id="e3c1"><text class="t" x="896" y="4526">按商业逻辑</text><path class="u" d="M873 4534H985"/></g>
<g id="e3c1a"><text class="t" x="1016" y="4421">直接面向用户售卖某种商品或服务获得赢利</text><path class="u" d="M991 4429H1305"/></g>
<g id="e3c1a1"><text class="t" x="1335" y="4391">商品和货源的选择和拓展能力</text><path class="u" d="M1311 4399H1533"/></g>
<g id="e3c1a2"><text class="t" x="1335" y="4421">商品包装和营销能力</text><path class="u" d="M1311 4429H1476"/></g>
<g id="e3c1a3"><text class="t" x="1335" y="4451">供应链全程服务能力</text><path class="u" d="M1311 4459H1476"/></g>
<g id="e3c1b"><text class="t" x="1016" y="4526">免费+增值服务</text><path class="u" d="M991 4534H1126"/></g>
<g id="e3c1b1"><text class="t" x="1154" y="4481">免费试用用户的获取能力</text><path class="u" d="M1132 4489H1325"/></g>
<g id="e3c1b2"><text class="t" x="1154" y="4511">用户的使用习惯和依赖性培养</text><path class="u" d="M1132 4519H1352"/></g>
<g id="e3c1b3"><text class="t" x="1154" y="4541">用户日常使用行为到付费服务之间的路径搭建</text><path class="u" d="M1132 4549H1454"/></g>
<g id="e3c1b4"><text class="t" x="1154" y="4571">最终增值服务或第三方付费服务的售卖</text><path class="u" d="M1132 4579H1411"/></g>
<g id="e3c1c"><text class="t" x="1016" y="4631">免费+流量or数据变现</text><path class="u" d="M991 4639H1166"/></g>
<g id="e3c1c1"><text class="t" x="1196" y="4601">引导用户发生特定行为、搭建特定氛围的能力</text><path class="u" d="M1172 4609H1495"/></g>
<g id="e3c1c2"><text class="t" x="1196" y="4631">持续维系住用户形成用户活跃度的能力</text><path class="u" d="M1172 4639H1452"/></g>
<g id="e3c1c3"><text class="t" x="1196" y="4661">对于内容、数据和现有重点用户资源等的整合能力</text><path class="u" d="M1172 4669H1523"/></g>
<g id="e3c2"><text class="t" x="896" y="4788">按用户行为频次</text><path class="u" d="M873 4796H1015"/></g>
<g id="e3c2a"><text class="t" x="1045" y="4721">基本使用产品服务是一次性的</text><path class="u" d="M1021 4729H1248"/></g>
<g id="e3c2a1"><text class="t" x="1277" y="4691">获客渠道的铺设和广告投放</text><path class="u" d="M1254 4699H1463"/></g>
<g id="e3c2a2"><text class="t" x="1277" y="4721">销售转化的有效性</text><path class="u" d="M1254 4729H1406"/></g>
<g id="e3c2a3"><text class="t" x="1277" y="4751">客单价</text><path class="u" d="M1254 4759H1332"/></g>
<g id="e3c2b"><text class="t" x="1045" y="4796">使用频次中低，比如数月一次，甚至1~2年一次</text><path class="u" d="M1021 4804H1362"/></g>
<g id="e3c2b1"><text class="t" x="1391" y="4781">渠道铺设，占据入口</text><path class="u" d="M1368 4789H1532"/></g>
<g id="e3c2b2"><text class="t" x="1391" y="4811">品牌传播，占据认知</text><path class="u" d="M1368 4819H1532"/></g>
<g id="e3c2c"><text class="t" x="1045" y="4856">使用频次较高，比如至少每周一次</text><path class="u" d="M1021 4864H1278"/></g>
<g id="e3c2c1"><text class="t" x="1306" y="4841">通过补贴、活动、运营机制、用户引导等各种方式培养用户的使用习惯</text><path class="u" d="M1284 4849H1762"/></g>
<g id="e3c2c2"><text class="t" x="1306" y="4871">思考如何撬动现有用户力量，打通几个“分享”的场景，形成病毒传播和增长</text><path class="u" d="M1284 4879H1786"/></g>
<g id="e3c3"><text class="t" x="896" y="4916">用户间是否通过产品结成某种关系</text><path class="u" d="M873 4924H1129"/></g>
<g id="e3c3a"><text class="t" x="1159" y="4901">与早期用户间保持极其密切的关系，且需要让他们极度认可你的理念</text><path class="u" d="M1135 4909H1602"/></g>
<g id="e3c3b"><text class="t" x="1159" y="4931">建立和完善规则、边界和约束条件，保障用户的体验</text><path class="u" d="M1135 4939H1499"/></g>
<g id="e4"><text class="t" x="487" y="5118">如何搭建一款成熟产品的运营体系</text><path class="u" d="M466 5126H719"/></g>
<g id="e4a"><text class="t" x="748" y="4976">保证基础业务的顺畅运转</text><path class="u" d="M725 4984H924"/></g>
<g id="e4a1"><text class="t" x="954" y="4961">梳理出产品的主业务流程</text><path class="u" d="M930 4969H1123"/></g>
<g id="e4a2"><text class="t" x="954" y="4991">结合流程思考，为了保证该核心业务流程能够运转，运营端至少完成哪些工作</text><path class="u" d="M930 4999H1454"/></g>
<g id="e4b"><text class="t" x="748" y="5096">把产品“开源”和“节流”变成固定动作</text><path class="u" d="M725 5104H983"/></g>
<g id="e4b1"><text class="t" x="1013" y="5051">开源</text><path class="u" d="M989 5059H1060"/></g>
<g id="e4b1a"><text class="t" x="1090" y="5021">优质内容</text><path class="u" d="M1066 5029H1159"/></g>
<g id="e4b1b"><text class="t" x="1090" y="5051">SEO</text><path class="u" d="M1066 5059H1127"/></g>
<g id="e4b1c"><text class="t" x="1090" y="5081">分享传播</text><path class="u" d="M1066 5089H1159"/></g>
<g id="e4b2"><text class="t" x="1013" y="5141">节流</text><path class="u" d="M989 5149H1060"/></g>
<g id="e4b2a"><text class="t" x="1090" y="5111">梳理流失行为比较高发的节点</text><path class="u" d="M1066 5119H1288"/></g>
<g id="e4b2b"><text class="t" x="1090" y="5141">结合用户访谈、用户行为分析定义出流失的原因</text><path class="u" d="M1066 5149H1404"/></g>
<g id="e4b2c"><text class="t" x="1090" y="5171">通过手段降低流失可能性</text><path class="u" d="M1066 5179H1259"/></g>
<g id="e4c"><text class="t" x="748" y="5201">确保“最关键用户行为”的发生几率</text><path class="u" d="M725 5209H970"/></g>
<g id="e4d"><text class="t" x="748" y="5231">核心用户的界定和维系机制的建立</text><path class="u" d="M725 5239H976"/></g>
<g id="e4e"><text class="t" x="748" y="5261">阶段性通过活动、事件、营销等实现用户增长</text><path class="u" d="M725 5269H1048"/></g>
<g id="e5"><text class="t" x="487" y="5336">理解社区/社群的典型运营路径和逻辑</text><path class="u" d="M466 5344H740"/></g>
<g id="e5a"><text class="t" x="771" y="5291">创建和初始化</text><path class="u" d="M746 5299H869"/></g>
<g id="e5b"><text class="t" x="771" y="5321">信任感与价值确立</text><path class="u" d="M746 5329H898"/></g>
<g id="e5c"><text class="t" x="771" y="5351">去中心化，社区成员之间关系网的构建</text><path class="u" d="M746 5359H1027"/></g>
<g id="e5d"><text class="t" x="771" y="5381">社区的“自生长”</text><path class="u" d="M746 5389H878"/></g>
<g id="e6"><text class="t" x="487" y="5456">2B类（面向企业提供服务型）产品运营</text><path class="u" d="M466 5464H748"/></g>
<g id="e6a"><text class="t" x="778" y="5411">你的产品有可能帮助企业解决问题</text><path class="u" d="M754 5419H1005"/></g>
<g id="e6b"><text class="t" x="778" y="5441">击破企业购买决策链中的关键环节</text><path class="u" d="M754 5449H1005"/></g>
<g id="e6c"><text class="t" x="778" y="5471">企业在使用中能真实感受到价值和效率的提升</text><path class="u" d="M754 5479H1078"/></g>
<g id="e6d"><text class="t" x="778" y="5501">企业对品牌有更强的信任度</text><path class="u" d="M754 5509H961"/></g>
</g>
</g>
</svg>
